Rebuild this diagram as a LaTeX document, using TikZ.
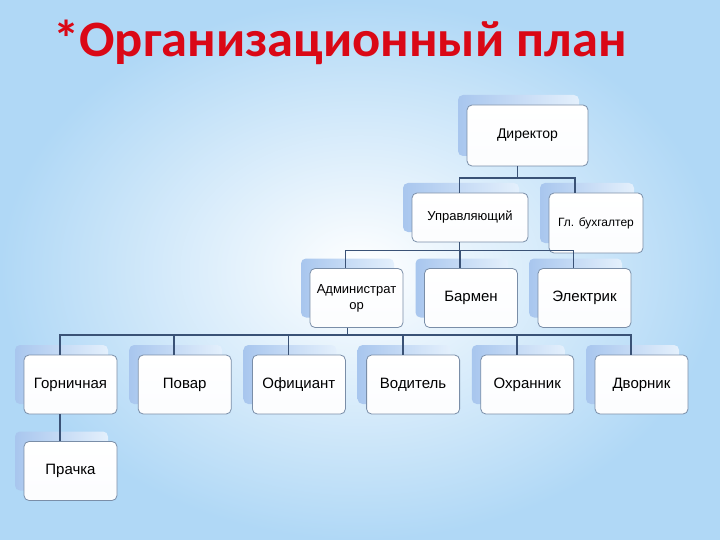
\documentclass[tikz,border=0pt]{standalone}
\usepackage{fontspec}
\setmainfont{Liberation Sans}
\newfontfamily\titlefont[FakeStretch=1.03]{Carlito}
\usetikzlibrary{positioning,shadows}

\definecolor{linkcol}{RGB}{58,82,118}
\definecolor{boxline}{RGB}{122,142,168}
\definecolor{shadeL}{RGB}{168,198,238}
\definecolor{shadeR}{RGB}{228,240,252}
\definecolor{bgblue}{RGB}{176,216,246}
\definecolor{titlered}{RGB}{218,8,22}

\begin{document}
\begin{tikzpicture}[x=1pt,y=-1pt,node distance=114.2pt,on grid,
  post/.style={draw=boxline, line width=0.8pt, rounded corners=5pt,
    top color=white, bottom color=white!96!shadeL,
    minimum width=93pt, minimum height=59pt, align=center, inner sep=1pt,
    font=\fontsize{15}{17}\selectfont,
    general shadow={shadow xshift=-9pt, shadow yshift=10pt,
      left color=shadeL, right color=shadeR}},
  small/.style={font=\fontsize{13}{16}\selectfont},
  link/.style={draw=linkcol, line width=1.8pt}]

  % background
  \useasboundingbox (0,0) rectangle (720,540);
  \shade[inner color=white, outer color=bgblue] (0,0) rectangle (720,540);

  % title
  \node[font=\titlefont\bfseries\fontsize{51}{51}\selectfont, text=titlered,
    anchor=base west, inner sep=0pt] (title) at (53,57) {*Организационный план};

  % upper levels
  \node[post, minimum width=121pt, minimum height=61pt, font=\fontsize{14}{16}\selectfont] (dir) at (527.5,135.5) {Директор};
  \node[post, small, minimum width=116pt, minimum height=49pt] (upr) at (470,217.5) {Управляющий};
  \node[post, font=\fontsize{12}{14}\selectfont, minimum width=94pt, minimum height=60pt] (buh) at (596,223) {Гл. бухгалтер};

  \node[post, small] (admin) at (356.5,298) {Администрат\\ор};
  \node[post] (barmen) [right=114.5pt of admin] {Бармен};
  \node[post] (elektr) [right=113.5pt of barmen] {Электрик};

  % staff
  \node[post] (gorn) at (70.5,384.5) {Горничная};
  \node[post] (povar) [right=of gorn] {Повар};
  \node[post] (ofic) [right=of povar] {Официант};
  \node[post] (vodit) [right=of ofic] {Водитель};
  \node[post] (ohran) [right=of vodit] {Охранник};
  \node[post] (dvor) [right=of ohran] {Дворник};
  \node[post] (prach) [below=86.5pt of gorn] {Прачка};

  % connectors
  \draw[link] ([xshift=-10pt]dir.south) -- ++(0,12) coordinate (bus1);
  \draw[link] (bus1) -| ([xshift=-10.5pt]upr.north);
  \draw[link] (bus1) -| ([xshift=-21pt]buh.north);

  \draw[link] ([xshift=-10.5pt]upr.south) -- ++(0,8) coordinate (bus2);
  \foreach \n in {admin,barmen,elektr}
    \draw[link] (bus2) -| ([xshift=-11pt]\n.north);

  \draw[link] ([xshift=-9pt]admin.south) -- ++(0,7) coordinate (bus3);
  \foreach \n in {gorn,povar,ofic,vodit,ohran,dvor}
    \draw[link] (bus3) -| ([xshift=-10.5pt]\n.north);

  \draw[link] ([xshift=-10.5pt]gorn.south) -- ([xshift=-10.5pt]prach.north);
\end{tikzpicture}
\end{document}
